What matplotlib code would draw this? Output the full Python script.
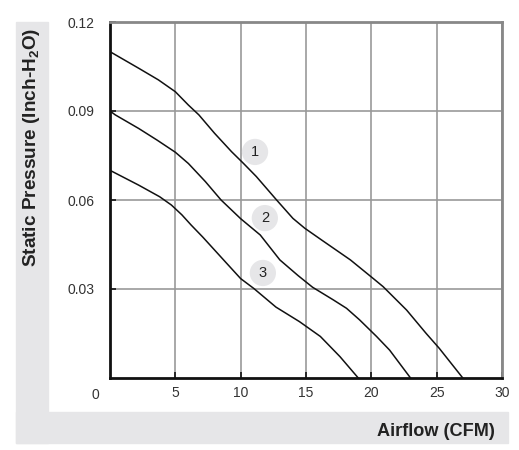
import matplotlib.pyplot as plt
import matplotlib.transforms as mtransforms
from matplotlib.patches import Rectangle

plt.rcParams['font.family'] = ['Liberation Sans', 'DejaVu Sans']
plt.rcParams['mathtext.fontset'] = 'custom'
plt.rcParams['mathtext.rm'] = 'Liberation Sans:bold'
plt.rcParams['mathtext.bf'] = 'Liberation Sans:bold'

# (airflow CFM, static pressure inch-H2O)
flow_1 = [0, 2.2, 3.7, 5, 6, 6.8, 8, 9.3, 10.2, 11.2, 12.75, 14, 14.9, 16.2,
          18.4, 20.1, 20.9, 22.7, 24.2, 25.2, 27]
pres_1 = [0.110, 0.1044, 0.1005, 0.0965, 0.092, 0.0887, 0.0825, 0.0763, 0.0724,
          0.0679, 0.060, 0.0538, 0.0505, 0.0465, 0.0398, 0.0337, 0.0308, 0.0229,
          0.015, 0.010, 0.0]

flow_2 = [0, 0.4, 2.2, 3.6, 5, 6, 7.3, 8.5, 10, 11.5, 13, 14.4, 15.5, 17.1,
          18.1, 19.1, 20.4, 21.4, 23]
pres_2 = [0.090, 0.0887, 0.0841, 0.0802, 0.0761, 0.0723, 0.0662, 0.0600, 0.0537,
          0.0482, 0.0398, 0.0345, 0.0306, 0.0263, 0.0235, 0.0196, 0.014, 0.0094, 0.0]

flow_3 = [0, 2.2, 3.8, 4.7, 5.5, 6.2, 7.1, 8.9, 10, 11, 12.7, 14.5, 16.1, 17.6, 19]
pres_3 = [0.070, 0.065, 0.0611, 0.0583, 0.055, 0.0516, 0.0475, 0.0388, 0.0335,
          0.0302, 0.0239, 0.019, 0.014, 0.0072, 0.0]

curve_labels = ['1', '2', '3']
label_x = [11.1, 11.85, 11.7]
label_y = [0.0762, 0.0539, 0.0354]

x_ticks = [5, 10, 15, 20, 25, 30]
y_ticks = [0.03, 0.06, 0.09, 0.12]

fig = plt.figure(figsize=(5.19, 4.5), dpi=100)
W, H = 519, 450

# light gray L-shaped band behind the axis titles
band = '#e6e6e8'
fig.patches.append(Rectangle((16 / W, 1 - 443 / H), 32 / W, 421 / H,
                             transform=fig.transFigure, color=band, zorder=0))
fig.patches.append(Rectangle((16 / W, 1 - 443 / H), 492 / W, 31 / H,
                             transform=fig.transFigure, color=band, zorder=0))

ax = fig.add_axes([110 / W, 1 - 378 / H, 392 / W, 356 / H])
ax.set_xlim(0, 30)
ax.set_ylim(0, 0.12)

for fx, py in [(flow_1, pres_1), (flow_2, pres_2), (flow_3, pres_3)]:
    ax.plot(fx, py, color='#111111', linewidth=1.1, zorder=3)

for lab, lx, ly in zip(curve_labels, label_x, label_y):
    ax.text(lx, ly, lab, fontsize=10.5, ha='center', va='center', color='#222222',
            zorder=4, bbox=dict(boxstyle='circle,pad=0.42', fc='#e6e6e8', ec='none'))

ax.set_xticks(x_ticks)
ax.set_yticks(y_ticks)
ax.set_yticklabels([f'{v:.2f}' for v in y_ticks])
ax.grid(True, color='#999999', linewidth=1.2, zorder=1)
ax.tick_params(axis='both', direction='in', length=4, width=1.2, color='#111111',
               labelsize=10, labelcolor='#333333')
ax.tick_params(axis='x', pad=6)
ax.tick_params(axis='y', pad=11)

# shared origin label, set off to the lower left of the corner
ax.text(0, 0, '0', fontsize=10, color='#333333', ha='center', va='top',
        transform=ax.transData + mtransforms.ScaledTranslation(
            -15 / 100, -10 / 100, fig.dpi_scale_trans))

for side in ['left', 'bottom']:
    ax.spines[side].set_color('#111111')
    ax.spines[side].set_linewidth(2)
for side in ['top', 'right']:
    ax.spines[side].set_color('#888888')
    ax.spines[side].set_linewidth(2)

fig.text(32 / W, 1 - 147 / H, r'Static Pressure (Inch-H$_\mathbf{2}$O)', rotation=90,
         fontsize=13.7, fontweight='bold', ha='center', va='center', color='#222222')
fig.text(495 / W, 1 - 432 / H, 'Airflow (CFM)', fontsize=13.1, fontweight='bold',
         ha='right', va='center', color='#222222')

fig.savefig('out.png', dpi=100)
